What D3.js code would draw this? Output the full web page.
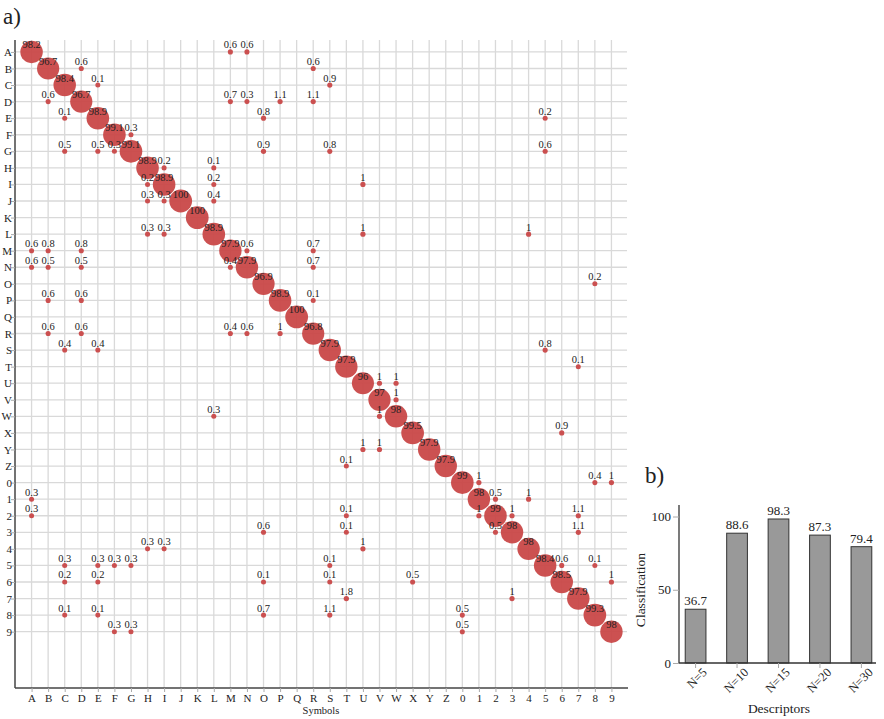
<!DOCTYPE html>
<html>
<head>
<meta charset="utf-8">
<script src="https://cdn.jsdelivr.net/npm/d3@7"></script>
<style>
	body { margin: 0; background: #fff; }
	text { font-family: "Liberation Serif", "DejaVu Serif", serif; fill: #222; }
</style>
</head>
<body>
<svg id="chart" width="884" height="719"></svg>
<script>
(function () {
'use strict';

// symbols (rows = true class, columns = predicted class)
var symbols = ["A","B","C","D","E","F","G","H","I","J","K","L","M","N","O","P","Q","R",
	"S","T","U","V","W","X","Y","Z","0","1","2","3","4","5","6","7","8","9"];

// diagonal recognition rates, one per symbol
var diagonal = [98.2, 96.7, 98.4, 96.7, 98.9, 99.1, 99.1, 98.9, 98.9, 100, 100, 98.9,
	97.9, 97.9, 96.9, 98.9, 100, 96.8, 97.9, 97.9, 96, 97, 98, 99.5, 97.9, 97.9,
	99, 98, 99, 98, 98, 98.4, 98.5, 97.9, 99.3, 98];

// off-diagonal confusions: [row, column, value]
var confusions = [
	["A","M",0.6],["A","N",0.6],
	["B","D",0.6],["B","R",0.6],
	["C","E",0.1],["C","S",0.9],
	["D","B",0.6],["D","M",0.7],["D","N",0.3],["D","P",1.1],["D","R",1.1],
	["E","C",0.1],["E","O",0.8],["E","5",0.2],
	["F","G",0.3],
	["G","C",0.5],["G","E",0.5],["G","F",0.3],["G","O",0.9],["G","S",0.8],["G","5",0.6],
	["H","I",0.2],["H","L",0.1],
	["I","H",0.2],["I","L",0.2],["I","U",1],
	["J","H",0.3],["J","I",0.3],["J","L",0.4],
	["L","H",0.3],["L","I",0.3],["L","U",1],["L","4",1],
	["M","A",0.6],["M","B",0.8],["M","D",0.8],["M","N",0.6],["M","R",0.7],
	["N","A",0.6],["N","B",0.5],["N","D",0.5],["N","M",0.4],["N","R",0.7],
	["O","8",0.2],
	["P","B",0.6],["P","D",0.6],["P","R",0.1],
	["R","B",0.6],["R","D",0.6],["R","M",0.4],["R","N",0.6],["R","P",1],
	["S","C",0.4],["S","E",0.4],["S","5",0.8],
	["T","7",0.1],
	["U","V",1],["U","W",1],
	["V","W",1],
	["W","L",0.3],["W","V",1],
	["X","6",0.9],
	["Y","U",1],["Y","V",1],
	["Z","T",0.1],
	["0","1",1],["0","8",0.4],["0","9",1],
	["1","A",0.3],["1","2",0.5],["1","4",1],
	["2","A",0.3],["2","T",0.1],["2","1",1],["2","3",1],["2","7",1.1],
	["3","O",0.6],["3","T",0.1],["3","2",0.5],["3","7",1.1],
	["4","H",0.3],["4","I",0.3],["4","U",1],
	["5","C",0.3],["5","E",0.3],["5","F",0.3],["5","G",0.3],["5","S",0.1],["5","6",0.6],["5","8",0.1],
	["6","C",0.2],["6","E",0.2],["6","O",0.1],["6","S",0.1],["6","X",0.5],["6","9",1],
	["7","T",1.8],["7","3",1],
	["8","C",0.1],["8","E",0.1],["8","O",0.7],["8","S",1.1],["8","0",0.5],
	["9","F",0.3],["9","G",0.3],["9","0",0.5]
];

// panel b) descriptors
var descriptors = ["N=5", "N=10", "N=15", "N=20", "N=30"];
var classification = [36.7, 88.6, 98.3, 87.3, 79.4];
var classTicks = [0, 50, 100];

var svg = d3.select("#chart");
var red = "#c94848";
var serif = "'Liberation Serif', 'DejaVu Serif', serif";

// ---------- panel a) ----------
var cells = symbols.map(function(s, i){
	return {row: s, col: s, value: diagonal[i]};
}).concat(confusions.map(function(c){
	return {row: c[0], col: c[1], value: c[2]};
}));

var left = 15, right = 628, top = 40, bottom = 688;
var idx = function(s){ return symbols.indexOf(s); };
var x = d3.scaleLinear().domain([-1, 36]).range([left, right]);
var y = d3.scaleLinear().domain([-0.72, 38.4]).range([top, bottom]);
var r = d3.scaleLinear().domain([0, 100]).range([2.5, 11.4]);

var gA = svg.append("g");

// grid
gA.selectAll("line.vgrid").data(symbols).enter().append("line")
	.attr("class", "vgrid")
	.attr("x1", function(d){ return x(idx(d)); })
	.attr("x2", function(d){ return x(idx(d)); })
	.attr("y1", top).attr("y2", bottom)
	.attr("stroke", "#d9d9d9").attr("stroke-width", 1.3);
gA.selectAll("line.hgrid").data(symbols).enter().append("line")
	.attr("class", "hgrid")
	.attr("x1", left).attr("x2", right - 1)
	.attr("y1", function(d){ return y(idx(d)); })
	.attr("y2", function(d){ return y(idx(d)); })
	.attr("stroke", "#d9d9d9").attr("stroke-width", 1.3);

// axes
var xAxis = d3.axisBottom(x).tickValues(d3.range(36))
	.tickFormat(function(i){ return symbols[i]; }).tickSize(4).tickSizeOuter(0);
var yAxis = d3.axisLeft(y).tickValues(d3.range(36))
	.tickFormat(function(i){ return symbols[i]; }).tickSize(4).tickSizeOuter(0);

var gx = gA.append("g").attr("transform", "translate(0," + bottom + ")").call(xAxis);
var gy = gA.append("g").attr("transform", "translate(" + left + ",0)").call(yAxis);
[gx, gy].forEach(function(g){
	g.attr("font-family", serif);
	g.select(".domain").attr("stroke", "#444").attr("stroke-width", 1.5);
	g.selectAll(".tick line").attr("stroke", "#aaa");
	g.selectAll(".tick text").attr("font-size", 11).attr("fill", "#222")
		.style("font-family", serif);
});
gx.selectAll(".tick text").attr("dy", "0.6em");
gy.selectAll(".tick text").attr("x", -3).attr("text-anchor", "end");
gy.select(".domain").attr("d", "M0," + top + "V" + bottom);
gx.select(".domain").attr("d", "M" + left + ",0H" + right);

gA.append("text").attr("x", 321).attr("y", 714).attr("text-anchor", "middle")
	.attr("font-size", 10.5).text("Symbols");

// bubbles
gA.selectAll("circle.cell").data(cells).enter().append("circle")
	.attr("class", "cell")
	.attr("cx", function(d){ return x(idx(d.col)); })
	.attr("cy", function(d){ return y(idx(d.row)); })
	.attr("r", function(d){ return r(d.value); })
	.attr("fill", red).attr("fill-opacity", 0.95);

gA.selectAll("text.cell").data(cells).enter().append("text")
	.attr("class", "cell")
	.attr("x", function(d){ return x(idx(d.col)); })
	.attr("y", function(d){ return y(idx(d.row)) - 3.5; })
	.attr("text-anchor", "middle")
	.attr("font-size", 10.5)
	.text(function(d){ return d.value; });

svg.append("text").attr("x", 3).attr("y", 24).attr("font-size", 23).text("a)");

// ---------- panel b) ----------
var bx = d3.scaleBand().domain(descriptors).range([679, 878])
	.paddingInner(0.5).paddingOuter(0.15);
var by = d3.scaleLinear().domain([0, 100]).range([663, 516.5]);

var gB = svg.append("g");
gB.selectAll("rect.bar").data(classification).enter().append("rect")
	.attr("class", "bar")
	.attr("x", function(d, i){ return bx(descriptors[i]); })
	.attr("y", function(d){ return by(d); })
	.attr("width", bx.bandwidth())
	.attr("height", function(d){ return by(0) - by(d); })
	.attr("fill", "#999").attr("stroke", "#333").attr("stroke-width", 1);

gB.selectAll("text.val").data(classification).enter().append("text")
	.attr("class", "val")
	.attr("x", function(d, i){ return bx(descriptors[i]) + bx.bandwidth() / 2; })
	.attr("y", function(d){ return by(d) - 4; })
	.attr("text-anchor", "middle").attr("font-size", 13)
	.text(function(d){ return d; });

var gbx = gB.append("g").attr("transform", "translate(0,663)")
	.call(d3.axisBottom(bx).tickSize(5).tickSizeOuter(0));
gbx.select(".domain").attr("stroke", "#333").attr("stroke-width", 1.3)
	.attr("d", "M679,0H876");
gbx.selectAll(".tick line").attr("stroke", "#aaa");
gbx.selectAll(".tick text")
	.attr("font-size", 12.5).attr("fill", "#222")
	.style("font-family", serif)
	.attr("text-anchor", "end")
	.attr("transform", "translate(6,4) rotate(-45)")
	.attr("dy", "0.7em").attr("y", 0).attr("x", 0);

var gby = gB.append("g").attr("transform", "translate(679,0)")
	.call(d3.axisLeft(by).tickValues(classTicks).tickSize(6).tickSizeOuter(0));
gby.select(".domain").attr("stroke", "#333").attr("stroke-width", 1.3)
	.attr("d", "M0,505V663");
gby.selectAll(".tick line").attr("stroke", "#aaa");
gby.selectAll(".tick text").attr("font-size", 13).attr("fill", "#222")
	.style("font-family", serif).attr("x", -8);

gB.append("text")
	.attr("transform", "translate(645,590) rotate(-90)")
	.attr("text-anchor", "middle").attr("font-size", 13.5).text("Classification");
gB.append("text").attr("x", 779).attr("y", 713)
	.attr("text-anchor", "middle").attr("font-size", 13.5).text("Descriptors");

svg.append("text").attr("x", 645).attr("y", 483).attr("font-size", 23).text("b)");

}());
</script>
</body>
</html>
